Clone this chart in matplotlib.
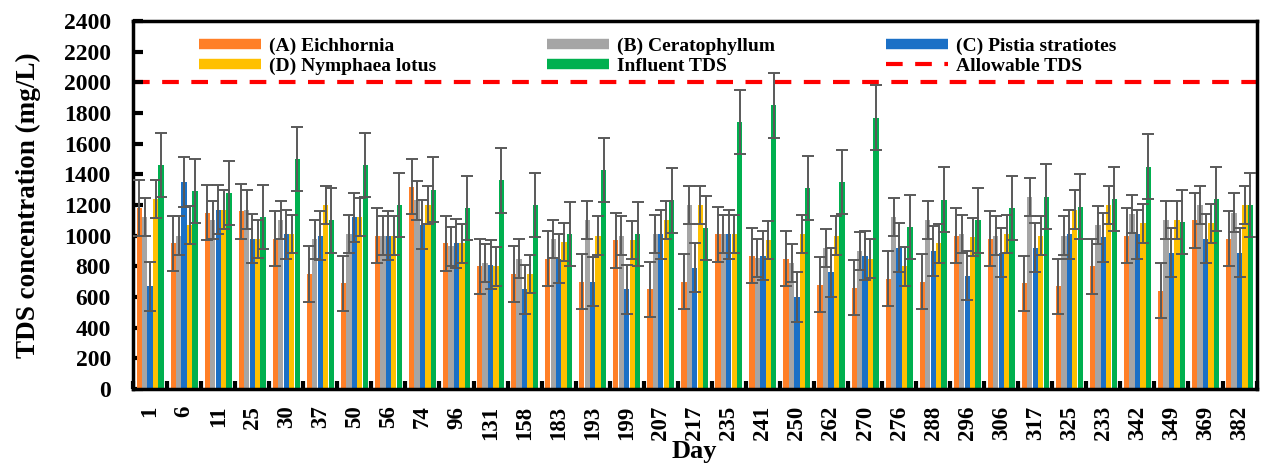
import numpy as np
import matplotlib
matplotlib.use("Agg")
import matplotlib.pyplot as plt
from matplotlib.lines import Line2D

# Sampling days (labels as printed on the chart)
days = ['1', '6', '11', '25', '30', '37', '50', '56', '74', '96', '131', '158', '183', '193', '199',
        '207', '217', '235', '241', '250', '262', '270', '276', '288', '296', '306', '317', '325',
        '233', '342', '349', '369', '382']

# TDS (mg/L) per plant system
eichhornia = [1180, 950, 1150, 1160, 980, 750, 690, 1000, 1320, 950, 800, 750, 850, 700, 970, 650,
              700, 1010, 870, 850, 680, 660, 720, 700, 1000, 980, 690, 670, 800, 1000, 640, 1100, 980]
ceratophyllum = [1120, 1000, 1100, 1170, 1100, 975, 1010, 1000, 1230, 930, 820, 850, 980, 1100, 1000, 1010,
                 1200, 1010, 855, 820, 920, 900, 1120, 1100, 1010, 1000, 1250, 1000, 1070, 1140, 1100, 1200, 1150]
pistia = [670, 1350, 1170, 980, 1010, 1000, 1120, 1000, 1070, 950, 810, 650, 850, 700, 650, 1010,
          790, 1010, 870, 600, 760, 870, 920, 900, 740, 890, 920, 1010, 990, 1010, 890, 980, 890]
nymphaea = [1240, 1070, 1170, 980, 1010, 1200, 1120, 1000, 1200, 950, 800, 750, 960, 1000, 970, 1100,
            1200, 1010, 970, 1010, 1000, 850, 800, 950, 990, 1010, 1000, 1170, 1200, 1080, 1100, 1080, 1200]
influent = [1460, 1290, 1280, 1120, 1500, 1100, 1460, 1200, 1300, 1180, 1360, 1200, 1010, 1430, 1010, 1230,
            1050, 1740, 1850, 1310, 1350, 1770, 1055, 1235, 1100, 1180, 1255, 1190, 1240, 1450, 1090, 1240, 1200]

# error bar half-widths (mg/L), one per series
err_a = 180
err_b = 125
err_c = 160
err_d = 125
err_inf = 210

allowable_tds = 2000

plt.rcParams['font.family'] = ['Liberation Serif', 'DejaVu Serif']
plt.rcParams['font.weight'] = 'bold'

fig = plt.figure(figsize=(12.61, 4.66), dpi=100)
ax = fig.add_axes([0.1055, 0.1652, 0.891, 0.7898])

x = np.arange(len(days))
width = 0.155
step = 0.16

series = [
    (eichhornia, err_a, '#FF7F27', '(A) Eichhornia'),
    (ceratophyllum, err_b, '#A5A5A5', '(B) Ceratophyllum'),
    (pistia, err_c, '#1B70C6', '(C) Pistia stratiotes'),
    (nymphaea, err_d, '#FFC000', '(D) Nymphaea lotus'),
    (influent, err_inf, '#00B04F', 'Influent TDS'),
]

handles = {}
for i, (vals, err, color, label) in enumerate(series):
    pos = x + (i - 2) * step
    ax.bar(pos, vals, width, color=color, zorder=2)
    ax.errorbar(pos, vals, yerr=err, fmt='none', ecolor='#595959', elinewidth=1.4,
                capsize=4, capthick=1.4, zorder=3)
    handles[label] = Line2D([], [], color=color, lw=7.5, solid_capstyle='butt')

# allowable limit
ax.axhline(allowable_tds, color='#FF0000', lw=3, dashes=(4, 3), zorder=1)
handles['Allowable TDS'] = Line2D([], [], color='#FF0000', lw=3, dashes=(4, 3))

ax.set_xlim(-0.5, len(days) - 0.5)
ax.set_ylim(0, 2400)
ax.set_yticks(np.arange(0, 2401, 200))
ax.set_xticks(x)
ax.set_xticklabels(days, rotation=90, fontsize=16.5, fontweight='bold')
ax.set_xticks(np.arange(-0.5, len(days), 1), minor=True)
ax.tick_params(axis='x', which='major', length=0, pad=12)
ax.tick_params(axis='x', which='minor', direction='in', length=6, width=3)
ax.tick_params(axis='y', direction='in', length=7, width=3, labelsize=17, pad=16)
for lab in ax.get_yticklabels():
    lab.set_fontweight('bold')
for sp in ax.spines.values():
    sp.set_linewidth(2.5)

ax.set_ylabel('TDS concentration (mg/L)', fontsize=19.5, fontweight='bold', labelpad=16)
ax.set_xlabel('Day', fontsize=19, fontweight='bold', labelpad=0)

# legend is filled column by column, so order gives two rows of three
order = ['(A) Eichhornia', '(D) Nymphaea lotus', '(B) Ceratophyllum', 'Influent TDS',
         '(C) Pistia stratiotes', 'Allowable TDS']
ax.legend([handles[k] for k in order], order, ncol=3, loc='upper left',
          bbox_to_anchor=(0.043, 1.003), frameon=False,
          handlelength=3.2, handletextpad=0.4, columnspacing=5.7,
          labelspacing=0.1, prop={'weight': 'bold', 'size': 14})

fig.savefig('out.png', dpi=100)
